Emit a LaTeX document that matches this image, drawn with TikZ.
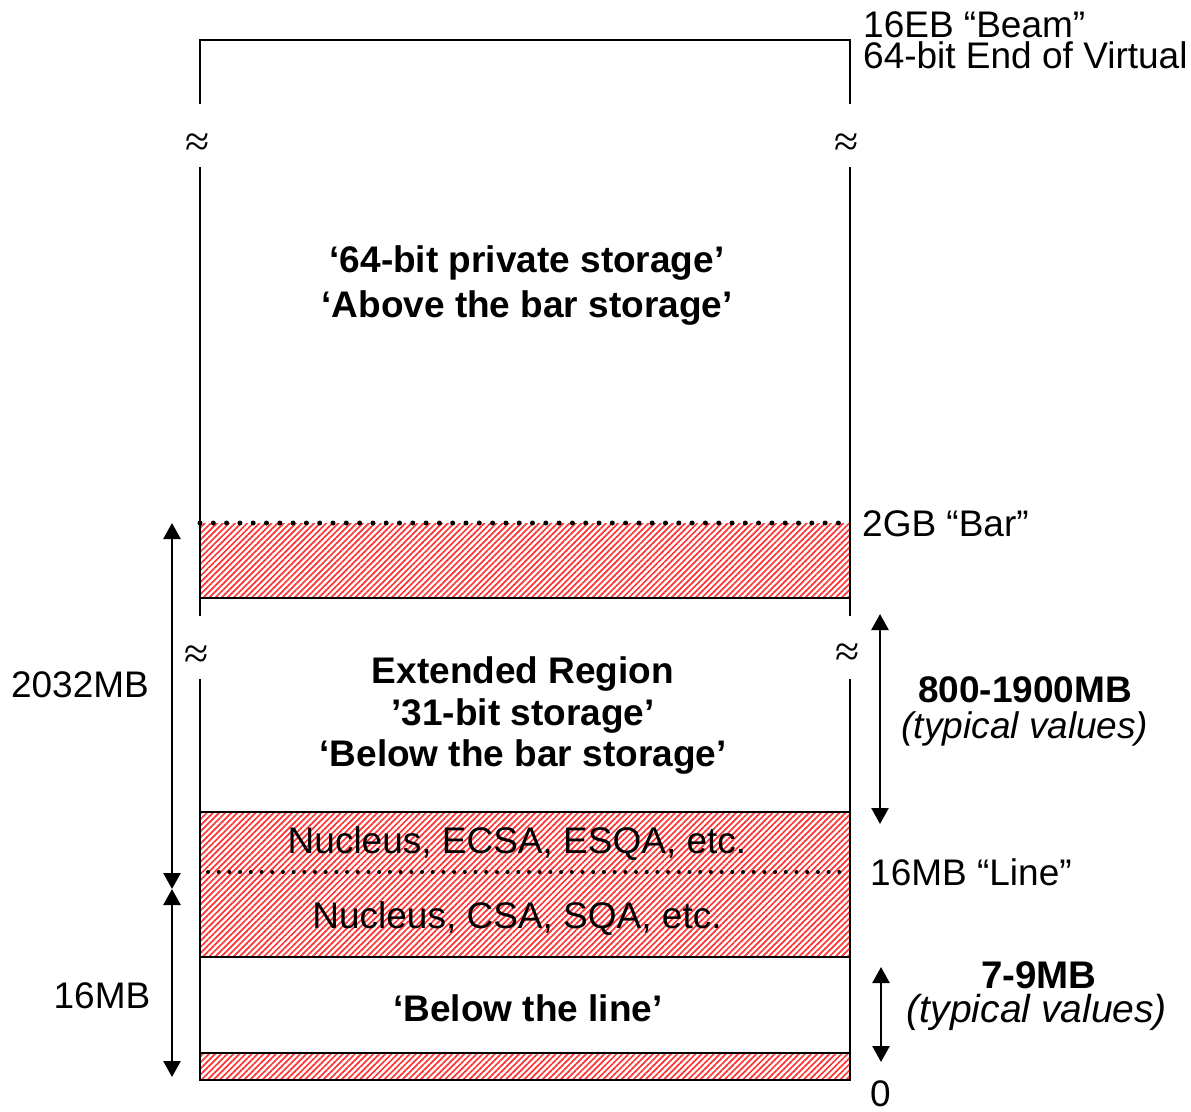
\documentclass[tikz,border=0pt]{standalone}
\usepackage{fontspec}
\setmainfont{Liberation Sans}
\newfontfamily\approxfont{Liberation Serif}
\usetikzlibrary{arrows.meta,patterns.meta}
\tikzset{
  x=1pt,y=-1pt,
  wall/.style={line width=2.6pt,line cap=rect},
  hatch/.style={pattern={Lines[angle=45,distance=4.3pt,line width=1.7pt]},pattern color=red!80},
  dotsline/.style={line width=5pt,line cap=round,dash pattern=on 0pt off 13.3pt},
  dotsthin/.style={line width=4pt,line cap=round,dash pattern=on 0pt off 10.7pt},
  dimarrow/.style={line width=2.6pt,{Triangle[length=16pt,width=17pt]}-{Triangle[length=16pt,width=17pt]}},
  lbl/.style={font=\fontsize{37}{37}\selectfont,inner sep=0pt,anchor=base west},
  ctr/.style={font=\fontsize{37}{37}\selectfont,inner sep=0pt,anchor=base},
  bctr/.style={font=\fontsize{37}{37}\selectfont\bfseries,inner sep=0pt,anchor=base},
  ictr/.style={font=\fontsize{37}{37}\selectfont\itshape,inner sep=0pt,anchor=base},
  brk/.style={font=\fontsize{44}{44}\selectfont\approxfont,inner sep=0pt}
}
\begin{document}
\begin{tikzpicture}
\useasboundingbox (0,0) rectangle (1191,1111);
% hatched bands
\fill[hatch] (200,523) rectangle (850,598);
\fill[hatch] (200,812) rectangle (850,957);
\fill[hatch] (200,1053) rectangle (850,1080);
% top line
\draw[line width=2pt] (200,40) -- (850,40);
% side walls
\draw[wall] (200,40) -- (200,103);
\draw[wall] (200,168) -- (200,615);
\draw[wall] (200,680) -- (200,1080);
\draw[wall] (850,40) -- (850,103);
\draw[wall] (850,168) -- (850,615);
\draw[wall] (850,680) -- (850,1080);
% horizontal boundaries
\draw[wall] (200,598) -- (850,598);
\draw[wall] (200,812) -- (850,812);
\draw[wall] (200,957) -- (850,957);
\draw[wall] (200,1053) -- (850,1053);
\draw[wall] (200,1080) -- (850,1080);
% dotted lines
\draw[dotsline] (200,523) -- (850,523);
\draw[dotsthin] (208,872) -- (845,872);
% break marks
\node[brk] (b1) at (198,145) {≈};
\node[brk] (b2) at (847,145) {≈};
\node[brk] (b3) at (197,657) {≈};
\node[brk] (b4) at (848,655) {≈};
% dimension arrows
\coordinate (la1) at (172,523);
\coordinate (la2) at (172,889);
\coordinate (la3) at (172,1077);
\draw[dimarrow] (la1) -- (la2);
\draw[dimarrow] (la2) -- (la3);
\coordinate (ra1) at (880,614);
\coordinate (ra2) at (880,824);
\draw[dimarrow] (ra1) -- (ra2);
\coordinate (ra3) at (881,967);
\coordinate (ra4) at (881,1062);
\draw[dimarrow] (ra3) -- (ra4);
% right labels
\node[lbl] (beam) at (863,37) {16EB “Beam”};
\node[lbl] (eov) at (863,68) {64-bit End of Virtual};
\node[lbl] (bar) at (862,536) {2GB “Bar”};
\node[lbl] (line) at (870,885) {16MB “Line”};
\node[lbl] (zero) at (870,1106) {0};
% left labels
\node[ctr] (l2032) at (80,697) {2032MB};
\node[ctr] (l16) at (102,1008) {16MB};
% central texts
\node[bctr] (t1) at (527,272) {‘64-bit private storage’};
\node[bctr] (t2) at (527,317) {‘Above the bar storage’};
\node[bctr] (t3) at (523,683) {Extended Region};
\node[bctr] (t4) at (523,725) {’31-bit storage’};
\node[bctr] (t5) at (523,766) {‘Below the bar storage’};
\node[ctr] (n1) at (517,853) {Nucleus, ECSA, ESQA, etc.};
\node[ctr] (n2) at (517,928) {Nucleus, CSA, SQA, etc.};
\node[bctr] (t6) at (528,1021) {‘Below the line’};
% typical values
\node[bctr] (v1) at (1025,702) {800-1900MB};
\node[ictr] (v1i) at (1025,738) {(typical values)};
\node[bctr,font=\fontsize{38.5}{38.5}\selectfont\bfseries] (v2) at (1039,988) {7-9MB};
\node[ictr,font=\fontsize{39}{39}\selectfont\itshape] (v2i) at (1037,1022) {(typical values)};
\end{tikzpicture}
\end{document}
